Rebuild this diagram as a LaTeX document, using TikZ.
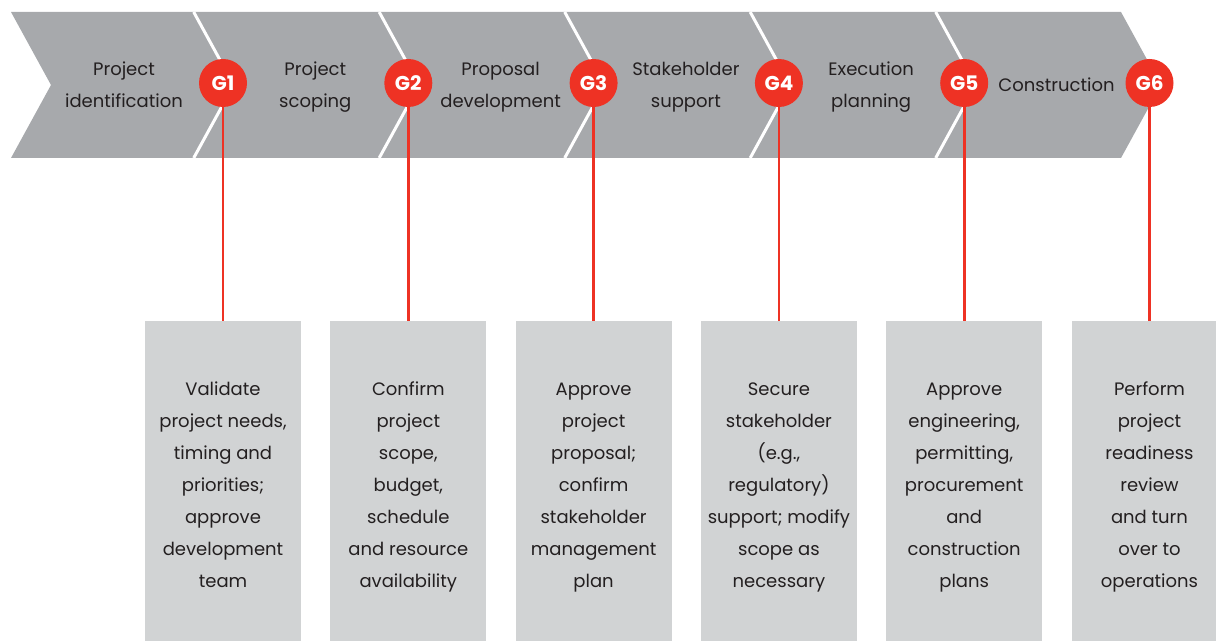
\documentclass[tikz,border=0pt]{standalone}
\usepackage{fontspec}
\setmainfont{Poppins}
\usetikzlibrary{positioning}

\definecolor{chevgray}{HTML}{A7A9AC}
\definecolor{boxgray}{HTML}{D1D3D4}
\definecolor{gatered}{HTML}{EE3224}
\definecolor{ink}{HTML}{231F20}

\tikzset{
  gate/.style={circle, fill=gatered, text=white, inner sep=0pt, minimum size=24pt,
    font=\bfseries\fontsize{10}{12}\selectfont},
  stagetext/.style={align=center, text=ink, font=\fontsize{9}{16}\selectfont},
  taskbox/.style={fill=boxgray, anchor=north, minimum width=78pt, minimum height=160pt},
  tasktext/.style={align=center, text=ink, font=\fontsize{9}{16}\selectfont},
  gateline/.style={draw=gatered, line width=1.3pt},
  split/.style={draw=white, line width=1.5pt}
}

\begin{document}
\begin{tikzpicture}[x=0.5pt, y=-0.5pt]
\useasboundingbox (0,0) rectangle (1216,641);
% chevron band
\fill[chevgray] (11,12) -- (1121,12) -- (1161,85) -- (1121,158) -- (11,158) -- (51,85) -- cycle;
\foreach \i in {0,...,4}
  \draw[split] ({193.7+185.5*\i},12) -- ({233.7+185.5*\i},85) -- ({193.7+185.5*\i},158);

\foreach \i/\stage/\task in {
  1/{Project\\identification}/{Validate\\project needs,\\timing and\\priorities;\\approve\\development\\team},
  2/{Project\\scoping}/{Confirm\\project\\scope,\\budget,\\schedule\\and resource\\availability},
  3/{Proposal\\development}/{Approve\\project\\proposal;\\confirm\\stakeholder\\management\\plan},
  4/{Stakeholder\\support}/{Secure\\stakeholder\\(e.g.,\\regulatory)\\support; modify\\scope as\\necessary},
  5/{Execution\\planning}/{Approve\\engineering,\\permitting,\\procurement\\and\\construction\\plans},
  6/{Construction}/{Perform\\project\\readiness\\review\\and turn\\over to\\operations}}
{
  \node[taskbox] (b\i) at ({223+185.3*(\i-1)},321) {};
  \node[tasktext] (t\i) at ([yshift=-2pt]b\i.center) {\strut\task\strut};
  \pgfmathsetmacro\sx{\i==1 ? 124 : 130+185.3*(\i-1)}
  \node[stagetext] (s\i) at (\sx,85) {\strut\stage\strut};
  \node[gate] (g\i) at ({223+185.3*(\i-1)},83) {G\i};
  \draw[gateline] (g\i) -- (b\i);
}
\end{tikzpicture}
\end{document}
